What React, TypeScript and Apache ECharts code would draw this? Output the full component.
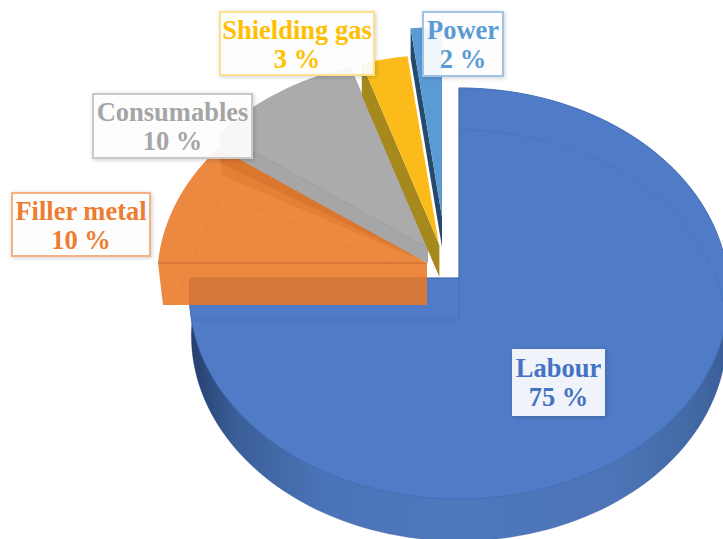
import React, { useEffect, useRef } from "react";
import * as echarts from "echarts";

const categories = ["Labour", "Filler metal", "Consumables", "Shielding gas", "Power"];
const shares = [75, 10, 10, 3, 2];

type Pt = number[];
const FONT = '"Liberation Serif", "Times New Roman", serif';
const K = 269, A = 204.4, C = 0.0754;
const apexes: Pt[] = [[459, 278], [427, 263], [428, 248], [439.4, 245], [442, 217]];
const depths = [42, 42, 30, 32, 30];
const topColors = ["#4F7BC7", "rgba(233,119,37,0.88)", "#ABABAB", "#FBBC1B", "#5B9BD5"];
const wallColors = ["#3F659F", "#E97725", "#A6A6A6", "#A6881C", "#264A6B"];
const layers = [1, 5, 2, 3, 4];
const boxes = [[513, 350, 91, 65], [12, 193, 138, 63], [93, 94, 159, 64], [220, 12, 154, 63], [423, 12, 80, 64]];
const textColors = ["#4472C4", "#ED7D31", "#A5A5A5", "#FFC000", "#5B9BD5"];
const boxBorders = ["#EEF1F9", "#F4B183", "#C9C9C9", "#FFE08A", "#9DC3E6"];

function project(apex: Pt, deg: number, k = K): Pt {
  const t = (deg * Math.PI) / 180;
  const u = Math.sin(t), v = Math.cos(t);
  const d = 1 + C * v;
  return [apex[0] + (k * u) / d, apex[1] - (A * v) / d];
}
function arc(apex: Pt, from: number, to: number, k = K): Pt[] {
  const n = Math.max(2, Math.ceil((to - from) / 2));
  const out: Pt[] = [];
  for (let i = 0; i <= n; i++) out.push(project(apex, from + ((to - from) * i) / n, k));
  return out;
}
const poly = (points: Pt[], style: any, z2: number) => ({ type: "polygon", shape: { points }, style, z2, silent: true });
const line = (points: Pt[], stroke: string, z2: number, lineWidth = 1) => ({
  type: "polyline", shape: { points }, style: { stroke, fill: "none", lineWidth }, z2, silent: true,
});

function renderSlice(_params: any, api: any, i: number, from: number, to: number) {
  const a = apexes[i];
  const d = depths[i];
  const z = layers[i] * 10;
  const kids: any[] = [];
  const edgeA = project(a, from);
  const edgeB = project(a, to);
  if (i === 0) {
    const bottomApex = [a[0], a[1] + d];
    kids.push(poly([bottomApex, ...arc(bottomApex, from, to, K - 2)], {
      fill: new echarts.graphic.LinearGradient(0, 0, 1, 0, [
        { offset: 0, color: "#263F6C" },
        { offset: 0.08, color: "#3A5E98" },
        { offset: 0.25, color: "#4B74B8" },
        { offset: 0.5, color: "#4F78BD" },
        { offset: 0.8, color: "#4C74B6" },
        { offset: 0.95, color: "#4268A3" },
        { offset: 1, color: "#385D96" },
      ]),
    }, z));
    kids.push(poly([a, ...arc(a, from, to)], { fill: topColors[i], stroke: "#466FB6", lineWidth: 1 }, z + 1));
    kids.push(line(arc(bottomApex, 0, 270, K - 2), "rgba(50,85,150,0.18)", z + 2));
    kids.push(line([[bottomApex[0], a[1]], bottomApex, project(bottomApex, 270, K - 2)], "rgba(50,85,150,0.18)", z + 2));
    kids.push(line([project(a, 270), a, project(a, 0)], "rgba(50,85,150,0.35)", z + 2));
  } else if (i === 1) {
    const bottomLeft = [a[0] - 264, a[1] + d];
    const frontRight = [a[0], a[1] + d];
    kids.push(poly([a, ...arc(a, from, to)], { fill: topColors[i] }, z));
    kids.push(poly([edgeA, a, frontRight, bottomLeft], { fill: topColors[i] }, z));
    kids.push(poly([a, edgeB, [edgeB[0] + 3, edgeB[1]], [edgeB[0] + 3, edgeB[1] + 27]], { fill: "rgba(200,95,25,0.22)" }, z + 1));
    kids.push(line([edgeA, a], "rgba(165,80,30,0.55)", z + 2));
    kids.push(line([[a[0] - 254, a[1] + d], [a[0] - 205, a[1] - 70], [a[0] - 7, a[1] + 14]], "rgba(205,100,30,0.14)", z + 2));
  } else if (i === 2) {
    const wallEnd = [a[0], a[1] + 15];
    kids.push(poly([edgeA, [edgeA[0], edgeA[1] + d], wallEnd, a], { fill: wallColors[i] }, z));
    kids.push(poly([a, ...arc(a, from, to)], { fill: topColors[i] }, z + 1));
    kids.push(line([edgeA, a], "rgba(130,130,130,0.5)", z + 2));
  } else {
    kids.push(poly([edgeA, [edgeA[0], edgeA[1] + d], [a[0], a[1] + d], a], { fill: wallColors[i] }, z));
    kids.push(poly([a, ...arc(a, from, to)], { fill: topColors[i] }, z + 1));
    if (i === 3) kids.push(line([edgeB, a], "rgba(255,255,255,0.9)", z + 2));
  }
  const [bx, by, bw, bh] = boxes[i];
  kids.push({
    type: "rect", shape: { x: bx, y: by, width: bw, height: bh }, silent: true, z2: 100,
    style: {
      fill: "rgba(255,255,255,0.91)", stroke: boxBorders[i], lineWidth: 2,
      shadowBlur: 4, shadowColor: "rgba(0,0,0,0.2)", shadowOffsetX: 1, shadowOffsetY: 1,
    },
  });
  const cx = bx + bw / 2;
  kids.push({
    type: "text", x: cx, y: by + 17.5, z2: 101, silent: true,
    style: { text: categories[i], fill: textColors[i], font: `bold 26.5px ${FONT}`, align: "center", verticalAlign: "middle" },
  });
  kids.push({
    type: "text", x: cx, y: by + 47, z2: 101, silent: true,
    style: { text: `${api.value(0)} %`, fill: textColors[i], font: `bold 26.5px ${FONT}`, align: "center", verticalAlign: "middle" },
  });
  return { type: "group", children: kids };
}

export default function App() {
  const ref = useRef<HTMLDivElement>(null);
  useEffect(() => {
    if (!ref.current) return;
    const chart = echarts.init(ref.current, undefined, { renderer: "svg" });
    const total = shares.reduce((s, v) => s + v, 0);
    chart.setOption({
      animation: false,
      backgroundColor: "#FFFFFF",
      series: [{
        type: "custom",
        coordinateSystem: "none",
        clip: false,
        data: shares.map((v, i) => [v, i]),
        renderItem: (params: any, api: any) => {
          const i = params.dataIndex;
          const before = shares.slice(0, i).reduce((s, v) => s + v, 0);
          const from = (before / total) * 360;
          const to = ((before + shares[i]) / total) * 360;
          return renderSlice(params, api, i, from, to);
        },
      }],
    });
    return () => chart.dispose();
  }, []);
  return <div ref={ref} style={{ position: "fixed", left: 0, top: 0, width: 723, height: 539 }} />;
}
